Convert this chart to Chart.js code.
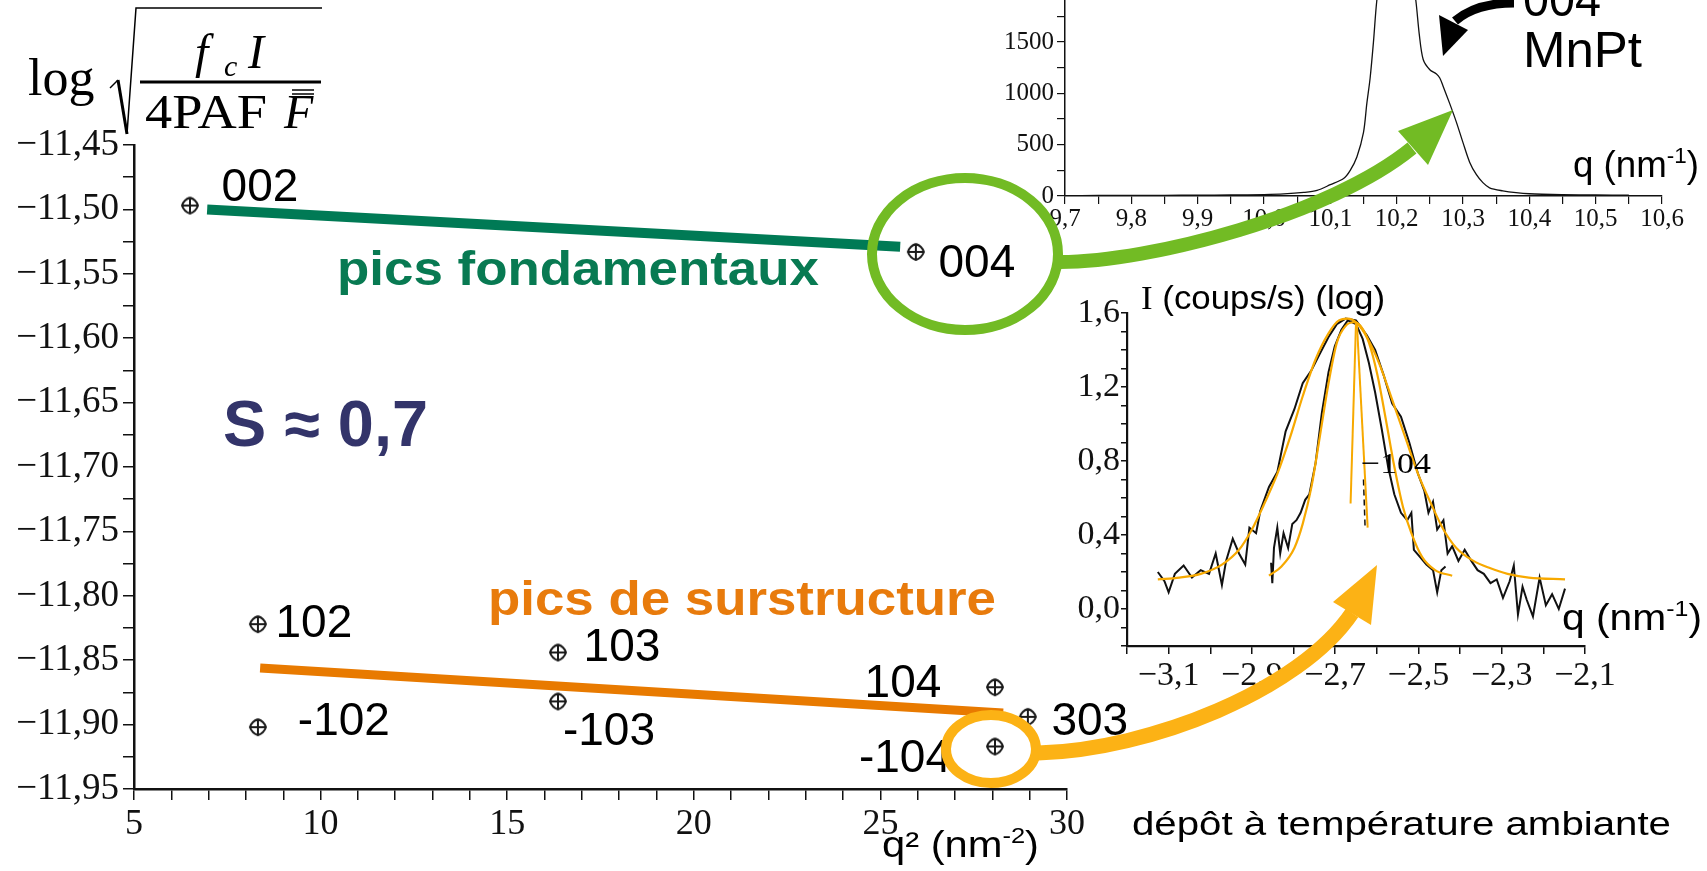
<!DOCTYPE html>
<html>
<head>
<meta charset="utf-8">
<script src="https://cdn.jsdelivr.net/npm/chart.js@4"></script>
<style>
  html, body { margin: 0; padding: 0; background: #fff; }
  #page { position: relative; width: 1707px; height: 871px; overflow: hidden; }
  #page canvas, #page svg { position: absolute; left: 0; top: 0; }
  #page svg { pointer-events: none; }
</style>
</head>
<body>
<div id="page">
  <canvas id="main-chart" width="1707" height="871"></canvas>
  <canvas id="peak-chart" width="1707" height="871"></canvas>
  <canvas id="fit-chart" width="1707" height="871"></canvas>
  <svg width="1707" height="871" font-family="'Liberation Sans', Arial, sans-serif">
    <!-- y axis title: log sqrt(fc I / 4PAF F) -->
    <text x="28" y="95" font-family="'Liberation Serif', serif" font-size="52">log</text>
    <polyline points="110,88 118,80" fill="none" stroke="#000" stroke-width="1.5"/>
    <polyline points="118,80 127,134" fill="none" stroke="#000" stroke-width="3"/>
    <polyline points="127,134 136,8 322,8" fill="none" stroke="#000" stroke-width="1.5"/>
    <text x="195" y="68" font-family="'Liberation Serif', serif" font-style="italic" font-size="48">f</text>
    <text x="224" y="76" font-family="'Liberation Serif', serif" font-style="italic" font-size="30">c</text>
    <text x="248" y="68" font-family="'Liberation Serif', serif" font-style="italic" font-size="48">I</text>
    <line x1="140" y1="82" x2="321" y2="82" stroke="#000" stroke-width="3"/>
    <text x="145" y="128" font-family="'Liberation Serif', serif" font-size="48" textLength="122" lengthAdjust="spacingAndGlyphs">4PAF</text>
    <text x="284" y="128" font-family="'Liberation Serif', serif" font-style="italic" font-size="48">F</text>
    <line x1="292" y1="90" x2="314" y2="90" stroke="#000" stroke-width="1.5"/>
    <line x1="292" y1="94" x2="314" y2="94" stroke="#000" stroke-width="1.5"/>

    <text x="337" y="285" font-weight="bold" font-size="48" fill="#087a52" textLength="482" lengthAdjust="spacingAndGlyphs">pics fondamentaux</text>
    <text x="488" y="615" font-weight="bold" font-size="48" fill="#e87b0c" textLength="508" lengthAdjust="spacingAndGlyphs">pics de surstructure</text>
    <text x="223" y="446" font-weight="bold" font-size="64" fill="#33346a" textLength="205" lengthAdjust="spacingAndGlyphs">S ≈ 0,7</text>
    <text x="1132" y="835" font-size="34" textLength="539" lengthAdjust="spacingAndGlyphs">dépôt à température ambiante</text>
    <text x="882" y="857" font-size="36" textLength="157" lengthAdjust="spacingAndGlyphs">q² (nm<tspan font-size="22" dy="-14">-2</tspan><tspan dy="14">)</tspan></text>
    <text x="1573" y="177" font-size="36" textLength="126" lengthAdjust="spacingAndGlyphs">q (nm<tspan font-size="22" dy="-14">-1</tspan><tspan dy="14">)</tspan></text>
    <text x="1562" y="630" font-size="36" textLength="140" lengthAdjust="spacingAndGlyphs">q (nm<tspan font-size="22" dy="-14">-1</tspan><tspan dy="14">)</tspan></text>
    <text x="1141" y="309" font-size="34" textLength="244" lengthAdjust="spacingAndGlyphs"><tspan font-family="'Liberation Serif', serif">I</tspan> (coups/s) (log)</text>
    <text x="1361" y="473" font-family="'Liberation Serif', serif" font-size="30" textLength="70" lengthAdjust="spacingAndGlyphs">−104</text>
    <text x="1523" y="16" font-size="50" textLength="78" lengthAdjust="spacingAndGlyphs">004</text>
    <text x="1523" y="67" font-size="50" textLength="119" lengthAdjust="spacingAndGlyphs">MnPt</text>

    <!-- highlight rings and arrows -->
    <ellipse cx="965" cy="254" rx="93" ry="76" fill="none" stroke="#72bb24" stroke-width="10"/>
    <path d="M1060,262 C1150,262 1330,215 1412,148" fill="none" stroke="#72bb24" stroke-width="14"/>
    <polygon points="1398,131 1428,165 1453,110" fill="#72bb24"/>
    <ellipse cx="991" cy="749" rx="45" ry="34" fill="none" stroke="#fcb215" stroke-width="10"/>
    <path d="M1038,753 C1150,750 1300,690 1352,613" fill="none" stroke="#fcb215" stroke-width="15"/>
    <polygon points="1333,602 1371,625 1377,565" fill="#fcb215"/>
    <path d="M1514,3 C1490,3 1470,8 1455,21" fill="none" stroke="#000" stroke-width="9"/>
    <polygon points="1439,15 1468,30 1443,56" fill="#000"/>
  </svg>
</div>
<script>
// main plot: amplitude of each reflection vs q^2
const peakNames = ['002', '004', '102', '-102', '103', '-103', '104', '303', '-104'];
const qSquared = [6.50, 25.95, 8.32, 8.32, 16.36, 16.36, 28.07, 28.95, 28.07];
const logAmplitude = [-11.497, -11.533, -11.822, -11.902, -11.844, -11.882, -11.871, -11.894, -11.917];

const fundFitX = [6.96, 25.53];
const fundFitY = [-11.500, -11.529];
const superFitX = [8.38, 28.29];
const superFitY = [-11.856, -11.891];

// top inset: 004 MnPt peak
const scanQ = [9.70, 9.75, 9.80, 9.85, 9.90, 9.95, 10.00, 10.03, 10.06, 10.08, 10.10, 10.12, 10.13, 10.14, 10.15,
  10.155, 10.16, 10.165, 10.17, 10.18, 10.20, 10.22, 10.229, 10.234, 10.24, 10.25, 10.26, 10.265, 10.27, 10.28,
  10.29, 10.30, 10.31, 10.32, 10.33, 10.34, 10.36, 10.38, 10.40, 10.45, 10.50, 10.55];
const scanCounts = [3, 5, 6, 7, 8, 10, 14, 20, 35, 55, 110, 170, 250, 380, 620,
  900, 1150, 1500, 1900, 2400, 2700, 2300, 1900, 1580, 1330, 1230, 1190, 1150, 1070, 900,
  720, 520, 330, 210, 130, 80, 50, 32, 22, 14, 10, 8];

// right inset: -104 peak, two scans + fits
const wideQ = [-3.126, -3.110, -3.100, -3.085, -3.064, -3.044, -3.023, -3.003, -2.987, -2.972,
  -2.962, -2.946, -2.931, -2.916, -2.906, -2.890, -2.880, -2.859, -2.839, -2.819,
  -2.798, -2.778, -2.757, -2.737, -2.716, -2.696, -2.675, -2.650, -2.624, -2.604,
  -2.583, -2.563, -2.542, -2.522, -2.501, -2.486, -2.476, -2.465, -2.455, -2.440,
  -2.430, -2.419, -2.404, -2.389, -2.373, -2.358, -2.343, -2.327, -2.312, -2.297,
  -2.281, -2.271, -2.261, -2.250, -2.240, -2.225, -2.209, -2.194, -2.179, -2.163, -2.148];
const wideLogI = [0.20, 0.15, 0.09, 0.19, 0.235, 0.17, 0.21, 0.19, 0.30, 0.13,
  0.26, 0.38, 0.30, 0.24, 0.44, 0.41, 0.53, 0.66, 0.74, 0.96,
  1.08, 1.22, 1.29, 1.38, 1.47, 1.54, 1.57, 1.56, 1.48, 1.40,
  1.26, 1.11, 1.04, 0.90, 0.73, 0.64, 0.52, 0.58, 0.43, 0.48,
  0.30, 0.34, 0.26, 0.32, 0.26, 0.21, 0.19, 0.14, 0.16, 0.06,
  0.15, 0.235, -0.03, 0.12, 0.05, -0.04, 0.17, 0.02, 0.08, 0.00, 0.11];
const narrowQ = [-2.854, -2.851, -2.847, -2.839, -2.832, -2.824, -2.813, -2.803, -2.793, -2.783,
  -2.772, -2.762, -2.747, -2.732, -2.716, -2.701, -2.685, -2.670, -2.650, -2.634,
  -2.619, -2.604, -2.588, -2.573, -2.558, -2.542, -2.527, -2.517, -2.511, -2.496,
  -2.481, -2.465, -2.455, -2.445, -2.435];
const narrowLogI = [0.25, 0.14, 0.33, 0.44, 0.30, 0.41, 0.33, 0.46, 0.48, 0.52,
  0.59, 0.62, 0.79, 1.06, 1.28, 1.42, 1.51, 1.56, 1.54, 1.46,
  1.33, 1.17, 0.97, 0.77, 0.62, 0.52, 0.48, 0.52, 0.32, 0.28,
  0.24, 0.21, 0.09, 0.21, 0.23];
const wideFitQ = [-3.126, -3.074, -3.023, -2.972, -2.931, -2.900, -2.870, -2.839, -2.808, -2.778,
  -2.747, -2.716, -2.691, -2.670, -2.650, -2.624, -2.593, -2.563, -2.532, -2.501,
  -2.470, -2.440, -2.409, -2.368, -2.327, -2.286, -2.235, -2.148];
const wideFitLogI = [0.16, 0.17, 0.19, 0.24, 0.32, 0.43, 0.57, 0.73, 0.93, 1.15,
  1.35, 1.49, 1.56, 1.57, 1.55, 1.47, 1.32, 1.13, 0.93, 0.73,
  0.57, 0.43, 0.33, 0.26, 0.22, 0.19, 0.17, 0.16];
const narrowFitQ = [-2.859, -2.829, -2.798, -2.778, -2.757, -2.737, -2.716, -2.696, -2.675, -2.655,
  -2.639, -2.619, -2.598, -2.578, -2.558, -2.537, -2.517, -2.491, -2.460, -2.419];
const narrowFitLogI = [0.18, 0.23, 0.33, 0.46, 0.66, 0.93, 1.22, 1.44, 1.53, 1.55,
  1.53, 1.44, 1.26, 1.02, 0.77, 0.55, 0.41, 0.28, 0.21, 0.18];
const spikeLeftQ = [-2.650, -2.663];
const spikeLeftLogI = [1.55, 0.57];
const spikeRightQ = [-2.648, -2.622];
const spikeRightLogI = [1.55, 0.44];
const dashQ = [-2.632, -2.628];
const dashLogI = [0.70, 0.43];

// label placement, px from each point
const labelOffsets = [[70, -5], [61, 25], [56, 13], [86, 8], [64, 9], [51, 44], [-92, 10], [62, 18], [-90, 26]];

const serif = '"Liberation Serif", "Times New Roman", serif';
const sans = '"Liberation Sans", Arial, sans-serif';

function pts(xs, ys) {
  return xs.map((x, i) => ({ x: x, y: ys[i] }));
}

function fmtNum(v, d) {
  if (Math.abs(v) < 1e-9) v = 0;
  return v.toFixed(d).replace('.', ',').replace('-', '\u2212');
}

function fixedBox(size) {
  return function (s) {
    if (s.isHorizontal()) s.height = size; else s.width = size;
    s.paddingTop = 0; s.paddingBottom = 0; s.paddingLeft = 0; s.paddingRight = 0;
  };
}

// circle with a cross, like the maple symbol
function makeMarker() {
  const c = document.createElement('canvas');
  c.width = 22; c.height = 22;
  const g = c.getContext('2d');
  g.strokeStyle = '#1a1a1a';
  g.lineWidth = 2;
  g.beginPath();
  g.moveTo(11, 3);
  g.quadraticCurveTo(17, 5, 19, 11);
  g.quadraticCurveTo(17, 17, 11, 19);
  g.quadraticCurveTo(5, 17, 3, 11);
  g.quadraticCurveTo(5, 5, 11, 3);
  g.moveTo(3, 11); g.lineTo(19, 11);
  g.moveTo(11, 3); g.lineTo(11, 19);
  g.stroke();
  return c;
}

const peakLabelPlugin = {
  id: 'peakLabels',
  afterDatasetsDraw(chart) {
    const ctx = chart.ctx;
    const meta = chart.getDatasetMeta(0);
    ctx.save();
    ctx.font = '46px ' + sans;
    ctx.fillStyle = '#000';
    ctx.textAlign = 'center';
    ctx.textBaseline = 'alphabetic';
    meta.data.forEach((el, i) => {
      const off = labelOffsets[i];
      ctx.fillText(peakNames[i], el.x + off[0], el.y + off[1]);
    });
    ctx.restore();
  }
};

const commonPlugins = { legend: { display: false }, tooltip: { enabled: false } };

new Chart(document.getElementById('main-chart'), {
  type: 'scatter',
  data: {
    datasets: [
      {
        data: pts(qSquared, logAmplitude),
        pointStyle: makeMarker(),
        pointRadius: 8,
        order: 0
      },
      {
        data: pts(fundFitX, fundFitY),
        showLine: true,
        borderColor: '#007a55',
        borderWidth: 10,
        pointRadius: 0,
        order: 2
      },
      {
        data: pts(superFitX, superFitY),
        showLine: true,
        borderColor: '#e87a00',
        borderWidth: 9,
        pointRadius: 0,
        order: 1
      }
    ]
  },
  options: {
    responsive: false,
    animation: false,
    devicePixelRatio: 1,
    layout: { padding: { left: 0, top: 145, right: 640, bottom: 0 } },
    plugins: commonPlugins,
    scales: {
      x: {
        min: 5, max: 30,
        afterFit: fixedBox(82),
        ticks: {
          stepSize: 1, autoSkip: false, maxRotation: 0, padding: 3,
          color: '#111', font: { family: serif, size: 36 },
          callback: v => (Math.abs(v % 5) < 1e-6 ? String(v) : '')
        },
        grid: { drawOnChartArea: false, tickLength: 11, color: '#111', lineWidth: 1.5 },
        border: { color: '#111', width: 2.5 }
      },
      y: {
        min: -11.95, max: -11.45,
        afterFit: fixedBox(134),
        ticks: {
          stepSize: 0.025, autoSkip: false, padding: 4,
          color: '#111', font: { family: serif, size: 37 },
          callback: v => {
            const k = Math.round(v / 0.05);
            return Math.abs(v - k * 0.05) < 1e-6 ? fmtNum(v, 2) : '';
          }
        },
        grid: { drawOnChartArea: false, tickLength: 11, color: '#111', lineWidth: 1.5 },
        border: { color: '#111', width: 2.5 }
      }
    }
  },
  plugins: [peakLabelPlugin]
});

new Chart(document.getElementById('peak-chart'), {
  type: 'scatter',
  data: {
    datasets: [{
      data: pts(scanQ, scanCounts),
      showLine: true,
      borderColor: '#111',
      borderWidth: 1.3,
      pointRadius: 0,
      tension: 0.3
    }]
  },
  options: {
    responsive: false,
    animation: false,
    devicePixelRatio: 1,
    layout: { padding: { left: 0, top: 0, right: 45, bottom: 0 } },
    plugins: commonPlugins,
    scales: {
      x: {
        min: 9.7, max: 10.6,
        afterFit: fixedBox(675),
        ticks: {
          stepSize: 0.05, autoSkip: false, maxRotation: 0, padding: 0,
          color: '#111', font: { family: serif, size: 25 },
          callback: v => (Math.round(v * 20) % 2 === 0 ? fmtNum(v, 1) : '')
        },
        grid: { drawOnChartArea: false, tickLength: 8, color: '#111', lineWidth: 1.2 },
        border: { color: '#111', width: 1.5 }
      },
      y: {
        min: 0, max: 1910,
        afterFit: fixedBox(1065),
        ticks: {
          stepSize: 250, autoSkip: false, padding: 3, includeBounds: false,
          color: '#111', font: { family: serif, size: 25 },
          callback: v => (v % 500 === 0 ? String(v) : '')
        },
        grid: { drawOnChartArea: false, tickLength: 8, color: '#111', lineWidth: 1.2 },
        border: { color: '#111', width: 1.5 }
      }
    }
  }
});

const fitOrange = '#f7a900';

new Chart(document.getElementById('fit-chart'), {
  type: 'scatter',
  data: {
    datasets: [
      { data: pts(wideFitQ, wideFitLogI), showLine: true, borderColor: fitOrange, borderWidth: 2.2, pointRadius: 0, cubicInterpolationMode: 'monotone' },
      { data: pts(narrowFitQ, narrowFitLogI), showLine: true, borderColor: fitOrange, borderWidth: 2.2, pointRadius: 0, cubicInterpolationMode: 'monotone' },
      { data: pts(spikeLeftQ, spikeLeftLogI), showLine: true, borderColor: fitOrange, borderWidth: 2, pointRadius: 0 },
      { data: pts(spikeRightQ, spikeRightLogI), showLine: true, borderColor: fitOrange, borderWidth: 2, pointRadius: 0 },
      { data: pts(dashQ, dashLogI), showLine: true, borderColor: '#111', borderWidth: 1.5, borderDash: [6, 4], pointRadius: 0 },
      { data: pts(wideQ, wideLogI), showLine: true, borderColor: '#111', borderWidth: 2, pointRadius: 0 },
      { data: pts(narrowQ, narrowLogI), showLine: true, borderColor: '#111', borderWidth: 2, pointRadius: 0 }
    ]
  },
  options: {
    responsive: false,
    animation: false,
    devicePixelRatio: 1,
    layout: { padding: { left: 0, top: 313, right: 122, bottom: 0 } },
    plugins: commonPlugins,
    scales: {
      x: {
        min: -3.2, max: -2.1,
        afterFit: fixedBox(225),
        ticks: {
          stepSize: 0.1, autoSkip: false, maxRotation: 0, padding: 2,
          color: '#111', font: { family: serif, size: 34 },
          callback: v => (Math.round(v * 10) % 2 !== 0 ? fmtNum(v, 1) : '')
        },
        grid: { drawOnChartArea: false, tickLength: 8, color: '#111', lineWidth: 1.5 },
        border: { color: '#111', width: 2.2 }
      },
      y: {
        min: -0.2, max: 1.6,
        afterFit: fixedBox(1127),
        ticks: {
          stepSize: 0.1, autoSkip: false, padding: 1,
          color: '#111', font: { family: serif, size: 34 },
          callback: v => (Math.round(v * 10) % 4 === 0 ? fmtNum(v, 1) : '')
        },
        grid: { drawOnChartArea: false, tickLength: 6, color: '#111', lineWidth: 1.5 },
        border: { color: '#111', width: 2.2 }
      }
    }
  }
});
</script>
</body>
</html>
